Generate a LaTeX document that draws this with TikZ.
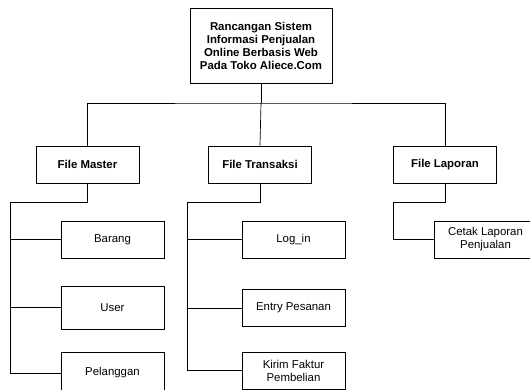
\documentclass[tikz,border=0pt]{standalone}
\usepackage{fontspec}
\setmainfont{Liberation Sans}

\tikzset{
    box/.style={draw, line width=0.7pt, align=center, inner sep=2pt,
        minimum width=103pt, minimum height=37pt,
        font=\fontsize{11.4}{13}\selectfont},
    headbox/.style={box, font=\fontsize{11.4}{13}\selectfont\bfseries},
    link/.style={line width=0.7pt}
}

\begin{document}
\begin{tikzpicture}[x=1pt, y=-1pt]
        \clip (0, 0) rectangle (530, 390);

        % top
        \node[headbox, minimum width=142pt, minimum height=75pt] (sistem) at (261, 45.5)
            {Rancangan Sistem\\Informasi Penjualan\\Online Berbasis Web\\Pada Toko Aliece.Com};

        % files
        \node[headbox] (master) at (87.5, 164.5) {File Master};
        \node[headbox] (transaksi) at (260, 164.5) {File Transaksi};
        \node[headbox] (laporan) at (445, 164.5) {File Laporan};

        \coordinate (bus) at (261, 103);
        \draw[link] (sistem.south) -- (bus);
        \draw[link] (master.north) |- (bus) -| (laporan.north);
        \draw[link] (bus) -- (transaksi.north);

        % file master
        \node[box] (barang) at (112.5, 239.5) {Barang};
        \node[box, minimum height=43pt] (user) at (112.5, 307.5) {User};
        \node[box, minimum height=42pt] (pelanggan) at (112.5, 373) {Pelanggan};

        \coordinate (m0) at (10, 202);
        \draw[link] (master.south) |- (m0) |- (pelanggan.west);
        \draw[link] (barang.west) -- (barang.west -| m0);
        \draw[link] (user.west) -- (user.west -| m0);

        % file transaksi
        \node[box] (login) at (293.5, 239.5) {Log\_in};
        \node[box] (pesanan) at (293.5, 308) {Entry Pesanan};
        \node[box] (faktur) at (293.5, 370.5) {Kirim Faktur\\Pembelian};

        \coordinate (t0) at (187, 202);
        \draw[link] (transaksi.south) |- (t0) |- (faktur.west);
        \draw[link] (login.west) -- (login.west -| t0);
        \draw[link] (pesanan.west) -- (pesanan.west -| t0);

        % file laporan
        \node[box] (cetak) at (485.5, 239.5) {Cetak Laporan\\Penjualan};

        \coordinate (l0) at (393, 202);
        \draw[link] (laporan.south) |- (l0) |- (cetak.west);
    \end{tikzpicture}
\end{document}
